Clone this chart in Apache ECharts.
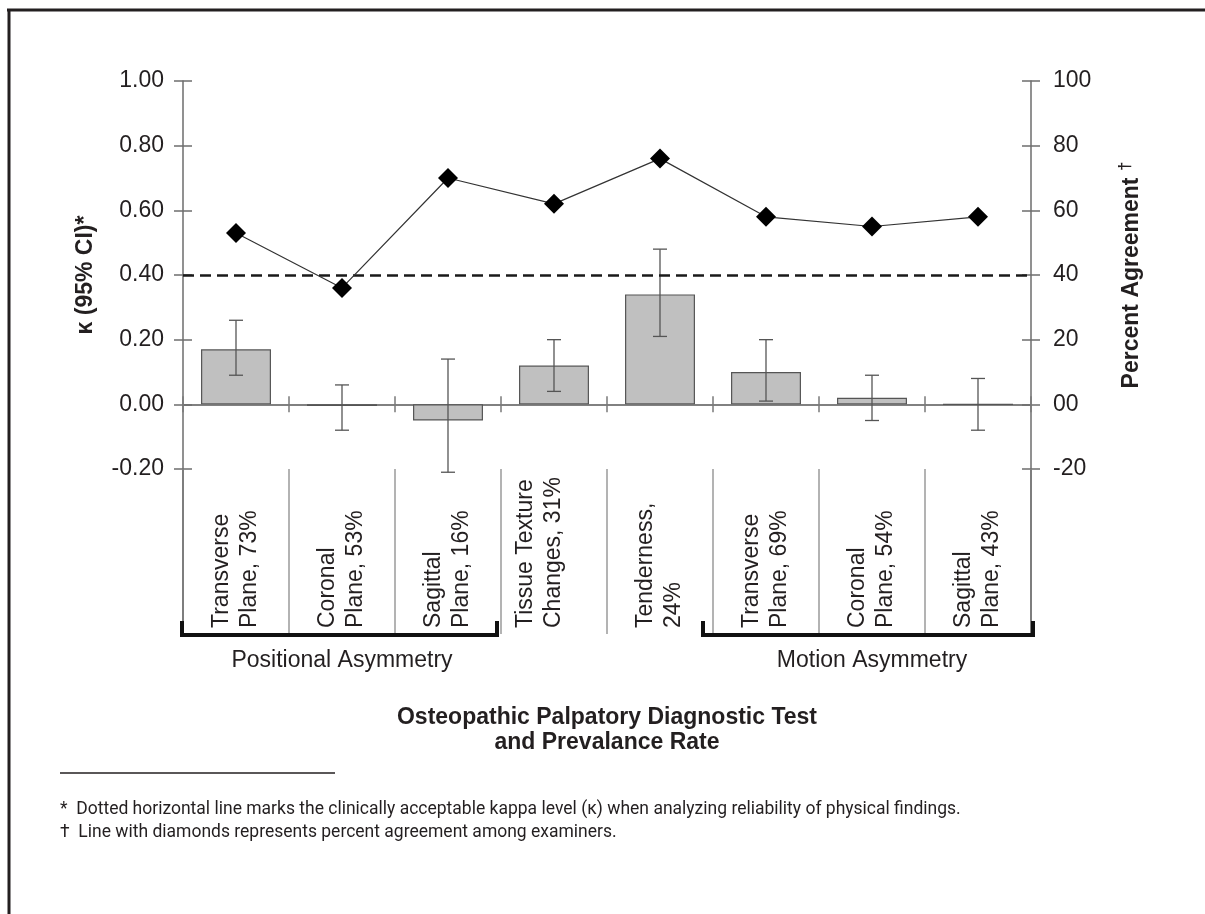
<!DOCTYPE html>
<html>
<head>
<meta charset="utf-8">
<script src="https://cdn.jsdelivr.net/npm/echarts@6/dist/echarts.min.js"></script>
<style>
html,body{margin:0;padding:0;background:#fff;}
#main{width:1205px;height:914px;}
</style>
</head>
<body>
<div id="main"></div>
<script>
// ---- data ----
const categories = [
  'Transverse\nPlane, 73%',
  'Coronal\nPlane, 53%',
  'Sagittal\nPlane, 16%',
  'Tissue Texture\nChanges, 31%',
  'Tenderness,\n24%',
  'Transverse\nPlane, 69%',
  'Coronal\nPlane, 54%',
  'Sagittal\nPlane, 43%'
];
const kappa  = [0.17, -0.005, -0.05, 0.12, 0.34, 0.10, 0.02, 0.00];
const ciLow  = [0.09, -0.08, -0.21, 0.04, 0.21, 0.01, -0.05, -0.08];
const ciHigh = [0.26, 0.06, 0.14, 0.20, 0.48, 0.20, 0.09, 0.08];
const agreement = [53, 36, 70, 62, 76, 58, 55, 58];
const kappaThreshold = 0.40;
const groups = [
  {name: 'Positional Asymmetry', first: 0, last: 2},
  {name: 'Motion Asymmetry', first: 5, last: 7}
];
const leftAxisName = 'κ (95% CI)*';
const rightAxisName = '{a|Percent Agreement} {b|†}';
const titleLines = ['Osteopathic Palpatory Diagnostic Test', 'and Prevalance Rate'];
const footnotes = [
  '*  Dotted horizontal line marks the clinically acceptable kappa level (κ) when analyzing reliability of physical findings.',
  '†  Line with diamonds represents percent agreement among examiners.'
];

const FONT = '"Liberation Sans", Arial, Helvetica, sans-serif';
const TXT = '#231f20';
const AX = '#6d6d6d';

const chart = echarts.init(document.getElementById('main'));
const errData = categories.map((c, i) => [i, ciLow[i], ciHigh[i]]);

const yCommon = {
  type: 'value',
  splitLine: {show: false},
  axisLine: {show: true, lineStyle: {color: AX, width: 1.5}},
  axisTick: {show: true, length: 9, lineStyle: {color: AX, width: 1.5}},
};

chart.setOption({
  backgroundColor: '#fff',
  animation: false,
  textStyle: {fontFamily: FONT},
  grid: {left: 183, right: 174, top: 81, bottom: 445, containLabel: false},
  xAxis: [
    {
      type: 'category', data: categories, position: 'bottom',
      axisLine: {show: true, onZero: true, lineStyle: {color: '#7a7a7a', width: 1.5}},
      axisTick: {show: true, length: 8, inside: false, lineStyle: {color: '#7a7a7a', width: 1.5}},
      axisLabel: {show: false}, splitLine: {show: false}
    },
    {
      type: 'category', data: categories, position: 'bottom',
      axisLine: {show: true, onZero: true, lineStyle: {color: '#7a7a7a', width: 1.5}},
      axisTick: {show: true, length: 8, inside: true, lineStyle: {color: '#7a7a7a', width: 1.5}},
      axisLabel: {show: false}, splitLine: {show: false}
    },
    {
      type: 'category', data: categories, position: 'bottom',
      axisLine: {show: false, onZero: false},
      axisTick: {show: true, length: 165, interval: 0, lineStyle: {color: '#b3b3b3', width: 2}},
      axisLabel: {
        show: true, interval: 0, rotate: 90, align: 'left', verticalAlign: 'middle',
        margin: 159, fontSize: 23, lineHeight: 28, color: TXT, fontFamily: FONT,
        // the "Tissue Texture" label sits a little left of centre in the original
        formatter: (v, i) => (i === 3 ? v + '\n ' : v)
      },
      splitLine: {show: false}
    }
  ],
  yAxis: [
    Object.assign({}, yCommon, {
      min: -0.2, max: 1.0, interval: 0.2, position: 'left',
      axisLabel: {margin: 19, fontSize: 23, color: TXT, fontFamily: FONT,
        formatter: v => (Math.abs(v) < 1e-9 ? 0 : v).toFixed(2)},
      name: leftAxisName, nameLocation: 'middle', nameRotate: 90, nameGap: 86,
      nameTextStyle: {fontWeight: 'bold', fontSize: 23, color: TXT, fontFamily: FONT}
    }),
    Object.assign({}, yCommon, {
      min: -20, max: 100, interval: 20, position: 'right',
      axisLabel: {margin: 22, fontSize: 23, color: TXT, fontFamily: FONT,
        formatter: v => (v === 0 ? '00' : String(v))},
      name: rightAxisName, nameLocation: 'middle', nameRotate: 90, nameGap: 86,
      nameTextStyle: {
        fontWeight: 'bold', fontSize: 23, color: TXT, fontFamily: FONT,
        rich: {
          a: {fontWeight: 'bold', fontSize: 23, color: TXT, fontFamily: FONT, lineHeight: 30},
          b: {fontWeight: 'bold', fontSize: 17, color: TXT, fontFamily: FONT, verticalAlign: 'top', lineHeight: 30}
        }
      }
    }),
    {
      type: 'value', min: -0.2, max: 1.0, interval: 0.2, position: 'left',
      axisLine: {show: false}, axisLabel: {show: false}, splitLine: {show: false},
      axisTick: {show: true, inside: true, length: 9, lineStyle: {color: AX, width: 1.5}}
    },
    {
      type: 'value', min: -20, max: 100, interval: 20, position: 'right',
      axisLine: {show: false}, axisLabel: {show: false}, splitLine: {show: false},
      axisTick: {show: true, inside: true, length: 9, lineStyle: {color: AX, width: 1.5}}
    }
  ],
  series: [
    {
      type: 'bar', xAxisIndex: 0, yAxisIndex: 0, data: kappa, barWidth: '66%',
      itemStyle: {color: '#c0c0c0', borderColor: '#555', borderWidth: 1.2},
      z: 2,
      markLine: {
        silent: true, symbol: ['none', 'none'], label: {show: false},
        lineStyle: {type: [11, 6], color: '#1a1a1a', width: 2.5},
        data: [{yAxis: kappaThreshold}]
      }
    },
    {
      type: 'custom', xAxisIndex: 0, yAxisIndex: 0, data: errData, z: 3,
      encode: {x: 0, y: [1, 2]},
      renderItem: function (params, api) {
        const x = api.value(0);
        const lo = api.coord([x, api.value(1)]);
        const hi = api.coord([x, api.value(2)]);
        const cap = 7;
        const st = {stroke: '#555', lineWidth: 1.3};
        return {
          type: 'group',
          children: [
            {type: 'line', shape: {x1: lo[0], y1: lo[1], x2: hi[0], y2: hi[1]}, style: st},
            {type: 'line', shape: {x1: lo[0] - cap, y1: lo[1], x2: lo[0] + cap, y2: lo[1]}, style: st},
            {type: 'line', shape: {x1: hi[0] - cap, y1: hi[1], x2: hi[0] + cap, y2: hi[1]}, style: st}
          ]
        };
      }
    },
    {
      type: 'line', xAxisIndex: 0, yAxisIndex: 1, data: agreement, z: 5,
      symbol: 'diamond', symbolSize: 20,
      itemStyle: {color: '#000'},
      lineStyle: {color: '#333', width: 1.2}
    }
  ]
});

// ---- annotations positioned from the chart's own scales ----
const cx = i => chart.convertToPixel({xAxisIndex: 0}, i);
const band = cx(1) - cx(0);
const gridLeft = cx(0) - band / 2;
const gridRight = cx(categories.length - 1) + band / 2;
const yBottom = chart.convertToPixel({yAxisIndex: 0}, -0.2);
const bracketY = yBottom + 166;
const graphics = [];

// frame (top and left)
graphics.push({type: 'line', shape: {x1: 7, y1: 10, x2: 1205, y2: 10}, style: {stroke: TXT, lineWidth: 3}});
graphics.push({type: 'line', shape: {x1: 9, y1: 9, x2: 9, y2: 914}, style: {stroke: TXT, lineWidth: 3}});

// axis line extensions down to bracket
[gridLeft, gridRight].forEach(x => graphics.push({
  type: 'line', z: 10, shape: {x1: x, y1: yBottom, x2: x, y2: bracketY}, style: {stroke: AX, lineWidth: 1.5}
}));

// brackets + group names
groups.forEach((g, k) => {
  const x1 = k === 0 ? gridLeft - 1 : cx(g.first) - band / 2 - 10;
  const x2 = k === 0 ? cx(g.last) + band / 2 - 4 : gridRight + 2;
  graphics.push({
    type: 'polyline', z: 11,
    shape: {points: [[x1, bracketY - 14], [x1, bracketY], [x2, bracketY], [x2, bracketY - 14]]},
    style: {stroke: '#111', lineWidth: 4, fill: null}
  });
  const mid = cx((g.first + g.last) / 2);
  graphics.push({
    type: 'text', x: mid, y: bracketY + 26,
    style: {text: g.name, fill: TXT, font: '23px ' + FONT, textAlign: 'center', textVerticalAlign: 'middle'}
  });
});

// title (x-axis title)
graphics.push({
  type: 'text', x: (gridLeft + gridRight) / 2, y: bracketY + 70,
  style: {text: titleLines.join('\n'), fill: TXT, font: 'bold 23px ' + FONT, lineHeight: 25,
    textAlign: 'center', textVerticalAlign: 'top'}
});

// footnote rule and footnotes
graphics.push({type: 'line', shape: {x1: 60, y1: 773, x2: 335, y2: 773}, style: {stroke: TXT, lineWidth: 1.5}});
footnotes.forEach((t, i) => graphics.push({
  type: 'text', x: 60, y: 810 + i * 23,
  style: {text: t, fill: TXT, font: '17.5px Roboto, "Noto Sans", sans-serif', textAlign: 'left', textVerticalAlign: 'middle'}
}));

chart.setOption({graphic: graphics});
</script>
</body>
</html>
